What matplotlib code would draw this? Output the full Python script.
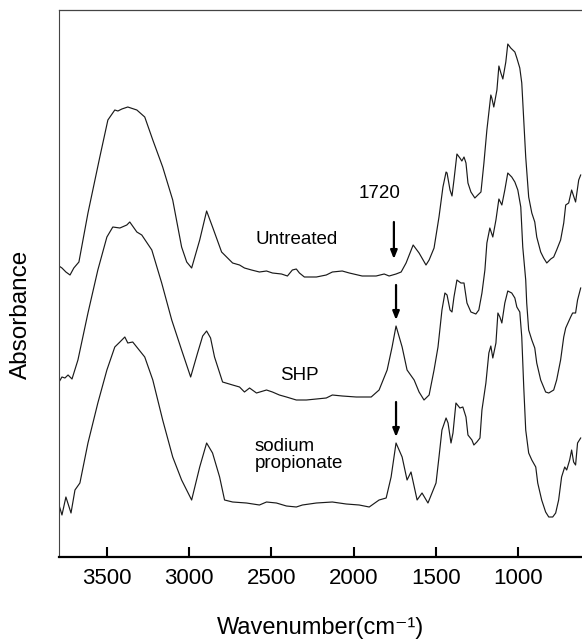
import matplotlib
matplotlib.use("Agg")
import matplotlib.pyplot as plt

plt.rcParams['font.family'] = ['Liberation Sans', 'DejaVu Sans']

# FTIR spectra, stacked (absorbance in arbitrary units)
wn_untreated = [3790, 3772, 3748, 3723, 3700, 3669, 3614, 3542, 3493, 3451, 3432, 3408,
                3372, 3317, 3269, 3220, 3160, 3099, 3045, 3014, 2984, 2935, 2893, 2857,
                2802, 2735, 2693, 2663, 2620, 2572, 2529, 2493, 2438, 2402, 2372, 2348,
                2329, 2299, 2226, 2166, 2129, 2069, 2026, 1948, 1863, 1814, 1784, 1742,
                1711, 1681, 1638, 1602, 1560, 1541, 1511, 1481, 1457, 1438, 1432, 1414,
                1402, 1390, 1372, 1354, 1342, 1329, 1317, 1305, 1287, 1263, 1245, 1226,
                1208, 1190, 1166, 1160, 1148, 1129, 1117, 1105, 1093, 1075, 1063, 1045,
                1020, 1008, 990, 978, 966, 954, 936, 917, 899, 887, 863, 845,
                826, 802, 784, 766, 742, 723, 711, 693, 675, 651, 632, 620]
abs_untreated = [2.91, 2.89, 2.85, 2.82, 2.89, 2.95, 3.44, 4.00, 4.37, 4.47, 4.46, 4.48,
                 4.50, 4.47, 4.40, 4.17, 3.90, 3.57, 3.10, 2.95, 2.89, 3.17, 3.46, 3.30,
                 3.05, 2.94, 2.92, 2.89, 2.87, 2.85, 2.86, 2.84, 2.83, 2.81, 2.87, 2.88,
                 2.84, 2.80, 2.80, 2.82, 2.85, 2.86, 2.84, 2.81, 2.81, 2.83, 2.81, 2.83,
                 2.85, 2.94, 3.12, 3.04, 2.92, 2.97, 3.09, 3.40, 3.70, 3.85, 3.84, 3.67,
                 3.61, 3.77, 4.03, 3.99, 3.96, 4.00, 3.94, 3.74, 3.65, 3.59, 3.62, 3.65,
                 3.94, 4.27, 4.62, 4.59, 4.50, 4.67, 4.91, 4.84, 4.78, 4.95, 5.13, 5.09,
                 5.05, 4.99, 4.89, 4.74, 4.37, 4.00, 3.60, 3.44, 3.35, 3.20, 3.05, 2.99,
                 2.94, 2.98, 3.00, 3.07, 3.17, 3.34, 3.52, 3.54, 3.67, 3.55, 3.77, 3.82]

wn_shp = [3790, 3772, 3754, 3735, 3711, 3675, 3614, 3554, 3499, 3463, 3420, 3378,
          3360, 3317, 3287, 3226, 3166, 3105, 3045, 2990, 2948, 2917, 2893, 2869,
          2845, 2796, 2735, 2693, 2663, 2632, 2590, 2529, 2493, 2451, 2408, 2348,
          2287, 2226, 2166, 2129, 2069, 1984, 1893, 1845, 1796, 1766, 1742, 1705,
          1675, 1632, 1602, 1572, 1541, 1511, 1487, 1463, 1445, 1432, 1414, 1402,
          1390, 1372, 1348, 1329, 1311, 1287, 1257, 1239, 1220, 1202, 1190, 1172,
          1154, 1135, 1117, 1099, 1081, 1063, 1039, 1020, 1002, 984, 972, 954,
          948, 936, 917, 899, 887, 863, 833, 814, 784, 766, 742, 723,
          711, 681, 669, 651, 639, 620]
abs_shp = [1.75, 1.80, 1.79, 1.82, 1.78, 1.97, 2.44, 2.87, 3.20, 3.30, 3.29, 3.32,
           3.35, 3.25, 3.22, 3.07, 2.74, 2.37, 2.07, 1.80, 2.04, 2.21, 2.26, 2.19,
           2.00, 1.75, 1.72, 1.70, 1.65, 1.69, 1.64, 1.67, 1.65, 1.62, 1.60, 1.57,
           1.57, 1.58, 1.59, 1.62, 1.61, 1.60, 1.60, 1.67, 1.87, 2.10, 2.31, 2.10,
           1.87, 1.77, 1.65, 1.57, 1.62, 1.87, 2.10, 2.47, 2.64, 2.62, 2.47, 2.45,
           2.60, 2.77, 2.74, 2.74, 2.54, 2.45, 2.43, 2.47, 2.64, 2.87, 3.14, 3.29,
           3.20, 3.37, 3.58, 3.52, 3.67, 3.84, 3.80, 3.75, 3.67, 3.50, 3.10, 2.77,
           2.54, 2.27, 2.17, 2.09, 1.94, 1.77, 1.65, 1.64, 1.67, 1.77, 1.97, 2.20,
           2.29, 2.40, 2.44, 2.44, 2.57, 2.69]

wn_propionate = [3790, 3772, 3748, 3717, 3693, 3663, 3614, 3554, 3499, 3451, 3420, 3390,
                 3372, 3342, 3269, 3220, 3160, 3099, 3045, 2984, 2935, 2893, 2857, 2814,
                 2784, 2735, 2651, 2572, 2529, 2469, 2408, 2348, 2311, 2226, 2129, 2045,
                 1966, 1905, 1845, 1802, 1772, 1742, 1705, 1675, 1651, 1614, 1584, 1548,
                 1499, 1481, 1463, 1438, 1426, 1408, 1396, 1378, 1354, 1336, 1317, 1305,
                 1281, 1269, 1251, 1232, 1220, 1196, 1178, 1166, 1154, 1135, 1123, 1111,
                 1099, 1081, 1063, 1039, 1020, 1008, 990, 978, 966, 954, 936, 917,
                 893, 881, 857, 833, 814, 790, 772, 754, 736, 717, 705, 687,
                 675, 663, 651, 639, 620]
abs_propionate = [0.52, 0.42, 0.60, 0.44, 0.67, 0.74, 1.14, 1.54, 1.87, 2.10, 2.15, 2.20,
                  2.14, 2.15, 2.00, 1.77, 1.37, 1.00, 0.77, 0.57, 0.90, 1.14, 1.04, 0.80,
                  0.57, 0.55, 0.54, 0.52, 0.55, 0.54, 0.51, 0.50, 0.52, 0.54, 0.55, 0.53,
                  0.52, 0.50, 0.57, 0.59, 0.80, 1.14, 1.00, 0.77, 0.85, 0.57, 0.64, 0.54,
                  0.74, 1.00, 1.27, 1.39, 1.34, 1.14, 1.24, 1.54, 1.49, 1.50, 1.40, 1.22,
                  1.17, 1.12, 1.15, 1.19, 1.47, 1.74, 2.04, 2.11, 1.99, 2.14, 2.44, 2.40,
                  2.34, 2.54, 2.66, 2.64, 2.59, 2.50, 2.45, 2.20, 1.70, 1.27, 1.04, 0.97,
                  0.90, 0.74, 0.57, 0.45, 0.40, 0.40, 0.44, 0.57, 0.80, 0.90, 0.87, 0.97,
                  1.07, 0.95, 0.92, 1.14, 1.19]

# carbonyl band markers: (wavenumber, arrow top, arrow tip)
arrows = [(1755, 3.35, 2.98), (1742, 2.72, 2.37), (1742, 1.55, 1.20)]

fig = plt.figure(figsize=(5.82, 6.39), dpi=100)
ax = fig.add_axes([59 / 582, 82 / 639, 1 - 59 / 582, 547 / 639])

for wn, ab in [(wn_untreated, abs_untreated), (wn_shp, abs_shp),
               (wn_propionate, abs_propionate)]:
    ax.plot(wn, ab, color='#1a1a1a', lw=0.85, solid_joinstyle='round')

for x, y0, y1 in arrows:
    ax.annotate('', xy=(x, y1), xytext=(x, y0),
                arrowprops=dict(arrowstyle='-|>,head_width=0.2,head_length=0.5',
                                color='black', lw=1.6, shrinkA=0, shrinkB=0))

ax.text(1845, 3.64, '1720', fontsize=13.5, ha='center', va='center')
ax.text(2348, 3.17, 'Untreated', fontsize=13.5, ha='center', va='center')
ax.text(2329, 1.81, 'SHP', fontsize=13.5, ha='center', va='center')
ax.text(2602, 1.02, 'sodium\npropionate', fontsize=13.5, ha='left', va='center',
        linespacing=1.0)

ax.set_xlim(3790, 612)
ax.set_ylim(0, 5.47)
ax.set_xticks([3500, 3000, 2500, 2000, 1500, 1000])
ax.set_yticks([])
ax.tick_params(axis='x', direction='in', length=7, width=1.5, labelsize=16, pad=8)

ax.spines['right'].set_visible(False)
ax.spines['left'].set_linewidth(0.8)
ax.spines['left'].set_color('#444444')
ax.spines['top'].set_linewidth(0.9)
ax.spines['top'].set_color('#444444')
ax.spines['bottom'].set_linewidth(1.6)

ax.set_xlabel('Wavenumber(cm\u207b\u00b9)', fontsize=17, labelpad=20)
ax.set_ylabel('Absorbance', fontsize=17.5)
ax.yaxis.set_label_coords(-0.052, 0.444)

fig.savefig('out.png', dpi=100)
